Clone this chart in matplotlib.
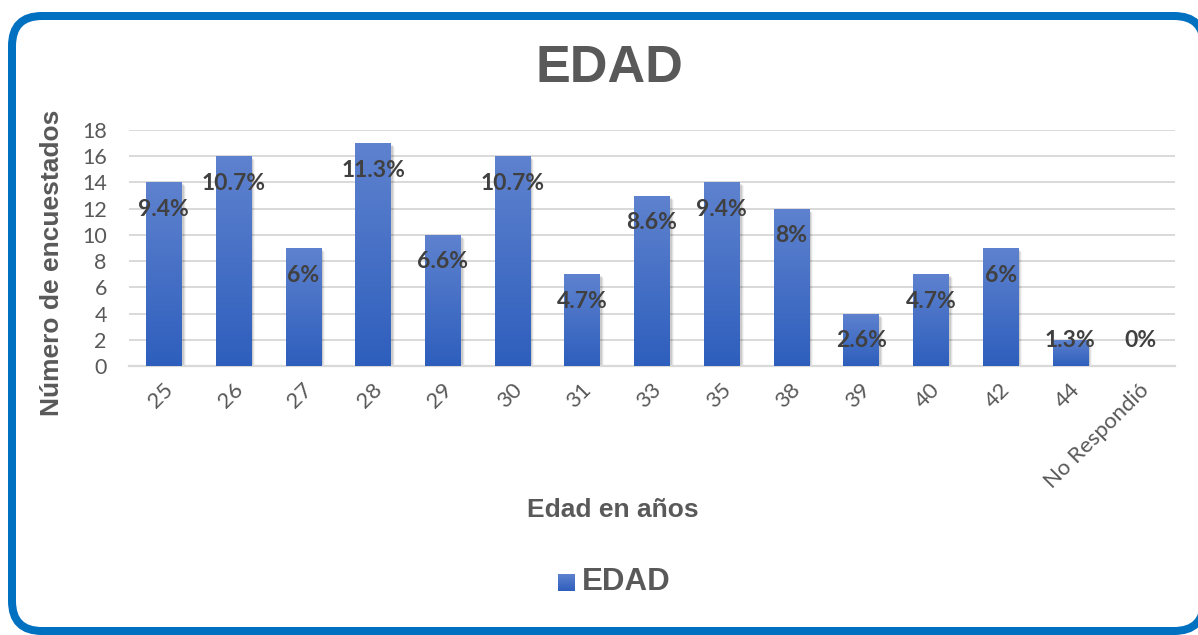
import matplotlib
matplotlib.use("Agg")
import matplotlib.pyplot as plt
import numpy as np
from matplotlib.colors import LinearSegmentedColormap
from matplotlib.patches import FancyBboxPatch, Rectangle
from matplotlib.transforms import ScaledTranslation

# ---- data ----
categories = ["25", "26", "27", "28", "29", "30", "31", "33", "35", "38", "39", "40", "42", "44", "No Respondió"]
counts = [14, 16, 9, 17, 10, 16, 7, 13, 14, 12, 4, 7, 9, 2, 0]
pct_labels = ["9.4%", "10.7%", "6%", "11.3%", "6.6%", "10.7%", "4.7%", "8.6%", "9.4%", "8%",
              "2.6%", "4.7%", "6%", "1.3%", "0%"]
y_ticks = [0, 2, 4, 6, 8, 10, 12, 14, 16, 18]

title = "EDAD"
x_label = "Edad en años"
y_label = "Número de encuestados"
series_name = "EDAD"

W, H, DPI = 1198, 635, 100
fig = plt.figure(figsize=(W / DPI, H / DPI), dpi=DPI)
fig.patch.set_facecolor("white")

# ---- border (pixel coordinates overlay) ----
bg = fig.add_axes([0, 0, 1, 1])
bg.set_xlim(0, W)
bg.set_ylim(H, 0)
bg.axis("off")
bg.add_patch(FancyBboxPatch((12, 16), 1204 - 12, 631 - 16,
                            boxstyle="round,pad=0,rounding_size=30",
                            linewidth=8 * 72 / DPI, edgecolor="#0070C0",
                            facecolor="white"))

# ---- main axes ----
ax = fig.add_axes([129 / W, 1 - 366 / H, (1175 - 129) / W, (366 - 130) / H])
ax.set_facecolor("none")
x = np.arange(len(categories))

top_c = (0.37, 0.51, 0.81)
bot_c = (0.18, 0.37, 0.74)
cmap = LinearSegmentedColormap.from_list("g", [bot_c, top_c])

bars = ax.bar(x, counts, width=0.51, color=top_c, zorder=3)
grad = np.linspace(0, 1, 256).reshape(-1, 1)
for b in bars:
    h = b.get_height()
    if h <= 0:
        continue
    x0 = b.get_x()
    w = b.get_width()
    # soft shadow
    for k, a in enumerate([0.10, 0.07, 0.04]):
        off = ScaledTranslation((2 + k) / DPI, -(2 + k) / DPI, fig.dpi_scale_trans)
        sh = Rectangle((x0, 0), w, h, facecolor="black", alpha=a, edgecolor="none",
                       transform=ax.transData + off, zorder=2)
        ax.add_patch(sh)
    im = ax.imshow(grad, extent=[x0, x0 + w, 0, h], origin="lower", aspect="auto",
                   cmap=cmap, zorder=4)
    im.set_clip_path(b)
    b.set_facecolor("none")

ax.set_xlim(-0.5, len(categories) - 0.5)
ax.set_ylim(0, 18)

# grid
ax.set_yticks(y_ticks)
ax.yaxis.grid(True, color="#D9D9D9", linewidth=1.4, zorder=0)
ax.set_axisbelow(True)
for s in ["top", "right", "left"]:
    ax.spines[s].set_visible(False)
ax.spines["bottom"].set_color("#D9D9D9")
ax.spines["bottom"].set_linewidth(1.6)
ax.tick_params(axis="both", length=0)
ax.tick_params(axis="y", labelsize=15.5, labelcolor="#595959", pad=16)
for lab in ax.get_yticklabels():
    lab.set_fontfamily("Lato")

ax.set_xticks(x)
ax.set_xticklabels(categories, rotation=45, ha="right", va="center",
                   rotation_mode="anchor", fontsize=16, color="#595959", fontfamily="Lato")
ax.tick_params(axis="x", pad=15)
for lab in ax.get_xticklabels():
    lab.set_transform(lab.get_transform() + ScaledTranslation(6 / DPI, 0, fig.dpi_scale_trans))

# data labels (inside end, clamped near base)
for xi, v, t in zip(x, counts, pct_labels):
    ly = max(v - 2.06, 1.95)
    ax.text(xi, ly, t, ha="center", va="center", fontsize=16.5, fontweight="bold",
            color="#404040", fontfamily="Lato", zorder=6)

# ---- titles ----
fig.text(609 / W, 1 - 68 / H, title, ha="center", va="center", fontsize=37.5,
         fontweight="bold", color="#595959", fontfamily="Liberation Sans")
fig.text(52 / W, 1 - 263 / H, y_label, ha="center", va="center", rotation=90,
         fontsize=19, fontweight="bold", color="#595959", fontfamily="Liberation Sans")
fig.text(613 / W, 1 - 510 / H, x_label, ha="center", va="center", fontsize=19,
         fontweight="bold", color="#595959", fontfamily="Liberation Sans")

# ---- legend ----
leg_ax = fig.add_axes([558 / W, 1 - 591 / H, 17 / W, 17 / H])
leg_ax.imshow(grad, extent=[0, 1, 0, 1], origin="lower", aspect="auto", cmap=cmap)
leg_ax.axis("off")
fig.text(582 / W, 1 - 582 / H, series_name, ha="left", va="center", fontsize=22.5,
         fontweight="bold", color="#595959", fontfamily="Liberation Sans")

fig.savefig("out.png", dpi=DPI, facecolor="white")
